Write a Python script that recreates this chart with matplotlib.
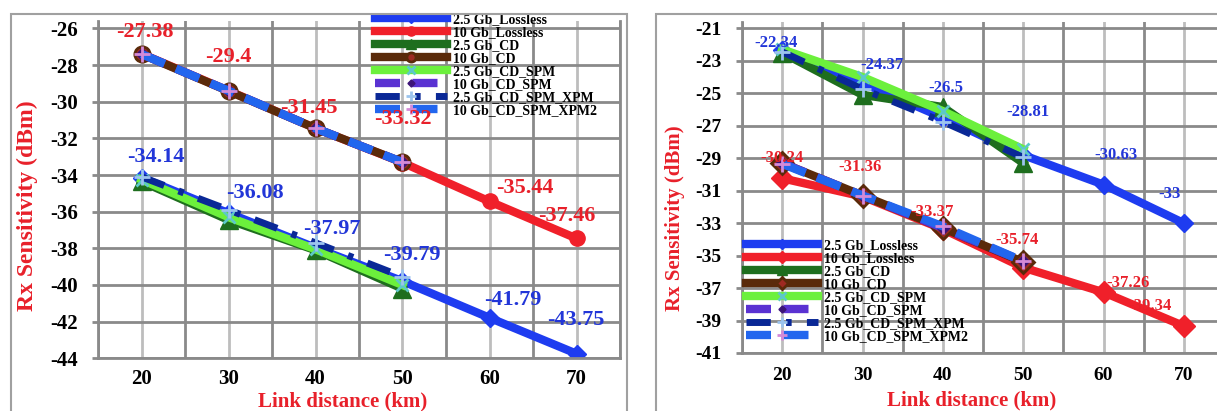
import numpy as np
import matplotlib
matplotlib.use('Agg')
import matplotlib.pyplot as plt
from matplotlib.patches import Rectangle
from matplotlib.ticker import MultipleLocator

plt.rcParams['font.family'] = ['Liberation Serif', 'DejaVu Serif']
plt.rcParams['font.weight'] = 'bold'
plt.rcParams['axes.unicode_minus'] = False

# ---------------- data ----------------
dist = [20, 30, 40, 50, 60, 70]
dist4 = [20, 30, 40, 50]

names = ['2.5 Gb_Lossless', '10 Gb_Lossless', '2.5 Gb_CD', '10 Gb_CD',
         '2.5 Gb_CD_SPM', '10 Gb_CD_SPM', '2.5 Gb_CD_SPM_XPM', '10 Gb_CD_SPM_XPM2']

# left chart
L_lossless_25 = [-34.14, -36.08, -37.97, -39.79, -41.79, -43.75]
L_lossless_10 = [-27.38, -29.4, -31.45, -33.32, -35.44, -37.46]
L_cd_25 = [-34.35, -36.45, -38.1, -40.2]
L_cd_10 = [-27.4, -29.42, -31.45, -33.3]
L_spm_25 = [-34.25, -36.3, -38.05, -40.0]
L_spm_10 = [-27.4, -29.4, -31.45, -33.3]
L_xpm_25 = [-34.1, -35.9, -37.7, -39.55]
L_xpm2_10 = [-27.4, -29.4, -31.45, -33.3]

# right chart
R_lossless_25 = [-22.34, -24.37, -26.5, -28.81, -30.63, -33]
R_lossless_10 = [-30.24, -31.36, -33.37, -35.74, -37.26, -39.34]
R_cd_25 = [-22.5, -25.1, -25.85, -29.3]
R_cd_10 = [-29.3, -31.3, -33.3, -35.4]
R_spm_25 = [-22.3, -24.0, -26.1, -28.45]
R_spm_10 = [-29.3, -31.3, -33.3, -35.35]
R_xpm_25 = [-22.45, -24.75, -26.75, -28.95]
R_xpm2_10 = [-29.35, -31.3, -33.2, -35.35]

# label offsets (pixels: right, up)
L_off_10 = [(3, 22), (0, 34), (-7, 20), (0, 44), (35, 13), (-10, 22)]
L_off_25 = [(14, 21), (26, 20), (16, 19), (9, 26), (23, 18), (-1, 34)]
R_off_25 = [(-6, 7), (19, 18), (3, 30), (5, 43), (12, 30), (-14, 29)]
R_off_10 = [(0, 20), (-2, 29), (-11, 17), (-6, 28), (25, 9), (-34, 20)]

BLUE = '#1E3CF0'
RED = '#F0202A'
DGREEN = '#1E6E1E'
BROWN = '#5A2A0A'
LGREEN = '#6CF03C'
PURPLE = '#5A32D2'
NAVY = '#0A2896'
XBLUE = '#2266EE'
LBL_BLUE = '#2236D8'
LBL_RED = '#E8202A'
GRID_D = '#8a8a8a'
GRID_L = '#bdbdbd'

W, H = 1217, 411
fig = plt.figure(figsize=(W / 100, H / 100), dpi=100)

# panel frames
fig.patches.append(Rectangle((11 / W, -0.05), 616 / W, 1.05 - 14 / H,
                             transform=fig.transFigure, fill=False,
                             edgecolor='#a0a0a0', lw=1.5))
fig.patches.append(Rectangle((656 / W, -0.05), 0.5, 1.05 - 14 / H,
                             transform=fig.transFigure, fill=False,
                             edgecolor='#a0a0a0', lw=1.5))


def draw(ax, series, red_marker, brown_marker, lw):
    (l25, l10, c25, c10, s25, s10, x25, x210) = series
    ax.plot(dist, l25, color=BLUE, lw=lw, marker='D', ms=9, label=names[0])
    ax.plot(dist, l10, color=RED, lw=lw, marker=red_marker, ms=11, label=names[1])
    ax.plot(dist4, c25, color=DGREEN, lw=lw, marker='^', ms=13, label=names[2])
    ax.plot(dist4, c10, color=BROWN, lw=lw, marker=brown_marker, ms=11,
            mfc='#9E2A22', mec=BROWN, mew=2, label=names[3])
    ax.plot(dist4, s25, color=LGREEN, lw=lw, marker='x', ms=9, mec='#5CC8C8',
            mew=2, label=names[4])
    ax.plot(dist4, s10, color=PURPLE, lw=lw, ls=(0, (3, 1.5)), marker='D', ms=6,
            mfc='#3C1478', mec='#3C1478', label=names[5])
    ax.plot(dist4, x25, color=NAVY, lw=lw - 1, ls=(0, (3.5, 2.2, 0.8, 2.2)),
            marker='+', ms=11, mec='#9CC4EE', mew=2, label=names[6])
    ax.plot(dist4, x210, color=XBLUE, lw=lw, ls=(0, (3, 1.5)), marker='+', ms=11,
            mec='#D48AD8', mew=2, label=names[7])


def style(ax, ylo, yhi, ytop, fs, xpad):
    ax.set_xlim(15, 75)
    ax.set_ylim(ylo, ytop)
    ax.xaxis.set_major_locator(MultipleLocator(10))
    ax.set_xticks(np.arange(15, 76, 10), minor=True)
    ax.set_yticks(np.arange(ylo, yhi + 1, 2))
    ax.grid(True, which='major', axis='x', color=GRID_L, lw=2)
    ax.grid(True, which='minor', axis='x', color=GRID_D, lw=2)
    ax.grid(True, which='major', axis='y', color=GRID_D, lw=2)
    ax.set_axisbelow(True)
    ax.spines['top'].set_visible(False)
    for s in ['left', 'bottom', 'right']:
        ax.spines[s].set_color(GRID_D)
        ax.spines[s].set_linewidth(2)
    ax.tick_params(axis='y', which='major', length=4.5, width=2, color=GRID_D,
                   pad=10, labelsize=fs)
    ax.tick_params(axis='x', which='both', length=0, pad=xpad, labelsize=fs)
    for t in ax.get_xticklabels() + ax.get_yticklabels():
        t.set_fontweight('bold')


def labels(ax, xs, ys, offs, color, fs):
    for x, y, (dx, dy) in zip(xs, ys, offs):
        ax.annotate(f'{y:g}', xy=(x, y), xytext=(dx * 0.72, dy * 0.72),
                    textcoords='offset points', ha='center', va='center',
                    color=color, fontsize=fs, fontweight='bold', zorder=10)


leg_kw = dict(bbox_transform=fig.transFigure, frameon=False, loc='upper left',
              labelspacing=0, handlelength=5.2, handletextpad=0.4,
              borderpad=0, borderaxespad=0, markerscale=0.6, numpoints=1,
              prop={'weight': 'bold', 'size': 10})

# ---------------- left chart ----------------
ax1 = fig.add_axes([98 / W, (H - 358.3) / H, 522 / W, (358.3 - 21.1) / H])
draw(ax1, (L_lossless_25, L_lossless_10, L_cd_25, L_cd_10,
           L_spm_25, L_spm_10, L_xpm_25, L_xpm2_10), 'o', 'o', 6)
style(ax1, -44, -26, -25.6, 15, 8)
labels(ax1, dist, L_lossless_10, L_off_10, LBL_RED, 16)
labels(ax1, dist, L_lossless_25, L_off_25, LBL_BLUE, 16)
ax1.legend(bbox_to_anchor=(375 / W, 1 - 13 / H), **leg_kw)

# ---------------- right chart ----------------
ax2 = fig.add_axes([742 / W, (H - 353) / H, 482 / W, (353 - 21.8) / H])
draw(ax2, (R_lossless_25, R_lossless_10, R_cd_25, R_cd_10,
           R_spm_25, R_spm_10, R_xpm_25, R_xpm2_10), 'D', 'D', 6)
style(ax2, -41, -21, -20.6, 14, 10)
labels(ax2, dist, R_lossless_25, R_off_25, LBL_BLUE, 12)
labels(ax2, dist, R_lossless_10, R_off_10, LBL_RED, 12)
ax2.legend(bbox_to_anchor=(746 / W, 1 - 239 / H), **leg_kw)

# axis titles
fig.text(27 / W, 1 - 206 / H, 'Rx Sensitivity (dBm)', rotation=90, color='#E8202A',
         fontsize=17, fontweight='bold', ha='center', va='center')
fig.text(675 / W, 1 - 218 / H, 'Rx Sensitivity (dBm)', rotation=90, color='#E8202A',
         fontsize=15, fontweight='bold', ha='center', va='center')
fig.text(343 / W, 1 - 401 / H, 'Link distance (km)', color='#E8202A',
         fontsize=15, fontweight='bold', ha='center', va='center')
fig.text(972 / W, 1 - 400 / H, 'Link distance (km)', color='#E8202A',
         fontsize=15, fontweight='bold', ha='center', va='center')

fig.savefig('out.png', dpi=100)
